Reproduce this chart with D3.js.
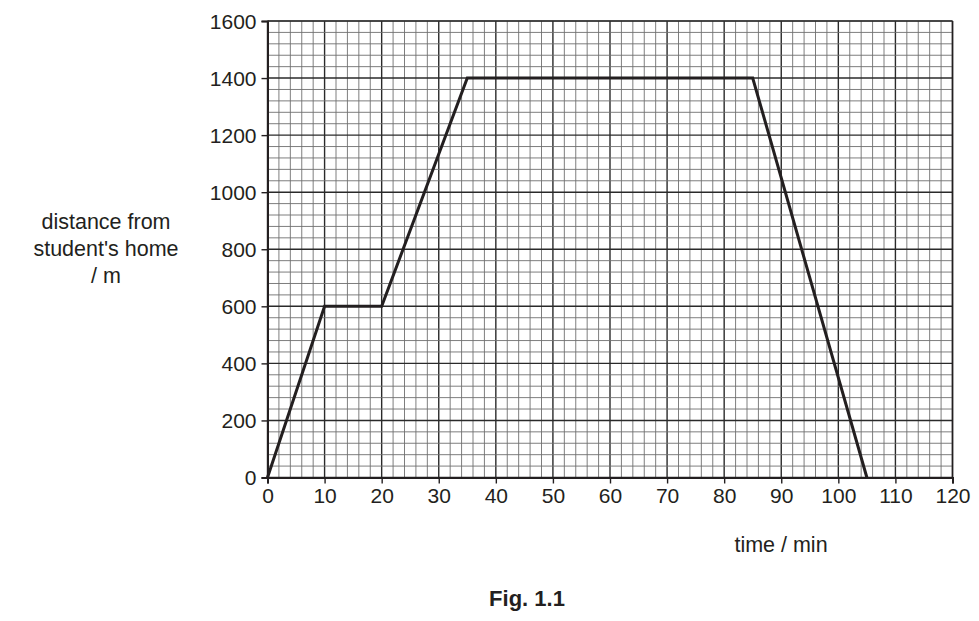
<!DOCTYPE html>
<meta charset="utf-8">
<style>
body { margin: 0; background: #fff; }
text { font-family: "Liberation Sans", Arial, sans-serif; fill: #231f20; }
</style>
<svg width="979" height="621"></svg>
<script src="https://cdn.jsdelivr.net/npm/d3@7"></script>
<script>

let times = [0, 10, 20, 35, 85, 105];
let distances = [0, 600, 600, 1400, 1400, 0];
let xTicks = [0, 10, 20, 30, 40, 50, 60, 70, 80, 90, 100, 110, 120];
let yTicks = [0, 200, 400, 600, 800, 1000, 1200, 1400, 1600];
let yLabel = ['distance from', "student's home", '/ m'];

let svg = d3.select('svg');
let x = d3.scaleLinear().domain([0, 120]).range([267.5, 952.5]);
let y = d3.scaleLinear().domain([0, 1600]).range([477.5, 21]);

let grid = svg.append('g');

// minor grid, 2 min and 40 m
grid.selectAll('.vx').data(d3.range(0, 121, 2)).enter().append('line')
    .attr('x1', d => x(d)).attr('x2', d => x(d))
    .attr('y1', y(0)).attr('y2', y(1600))
    .attr('stroke', d => d % 10 === 0 ? '#2a2a2a' : '#6f6f6f')
    .attr('stroke-width', d => d % 10 === 0 ? 1.4 : 0.9);

grid.selectAll('.hy').data(d3.range(0, 1601, 40)).enter().append('line')
    .attr('y1', d => y(d)).attr('y2', d => y(d))
    .attr('x1', x(0)).attr('x2', x(120))
    .attr('stroke', d => d % 200 === 0 ? '#2a2a2a' : '#6f6f6f')
    .attr('stroke-width', d => d % 200 === 0 ? 1.4 : 0.9);

// axes
let xAxis = svg.append('g')
    .attr('transform', 'translate(0,' + y(0) + ')')
    .call(d3.axisBottom(x).tickValues(xTicks).tickFormat(d3.format('d')).tickSize(6).tickPadding(3));
let yAxis = svg.append('g')
    .attr('transform', 'translate(' + x(0) + ',0)')
    .call(d3.axisLeft(y).tickValues(yTicks).tickFormat(d3.format('d')).tickSize(6).tickPadding(5));

[xAxis, yAxis].forEach(a => {
  a.select('.domain').attr('stroke', '#231f20').attr('stroke-width', 2);
  a.selectAll('.tick line').attr('stroke', '#231f20').attr('stroke-width', 1.4);
  a.selectAll('.tick text')
      .style('font-family', '"Liberation Sans", Arial, sans-serif')
      .style('font-size', '21px')
      .attr('fill', '#231f20');
});
xAxis.selectAll('.tick text').attr('dy', '0.8em');
yAxis.selectAll('.tick text').attr('dy', '0.35em');

// right and top border
svg.append('line')
    .attr('x1', x(120)).attr('x2', x(120))
    .attr('y1', y(0)).attr('y2', y(1600))
    .attr('stroke', '#231f20').attr('stroke-width', 1.5);
svg.append('line')
    .attr('x1', x(0)).attr('x2', x(120))
    .attr('y1', y(1600)).attr('y2', y(1600))
    .attr('stroke', '#333').attr('stroke-width', 1.2);

// journey line
let pts = times.map((t, i) => [t, distances[i]]);
svg.append('path')
    .datum(pts)
    .attr('fill', 'none')
    .attr('stroke', '#231f20')
    .attr('stroke-width', 3)
    .attr('stroke-linejoin', 'miter')
    .attr('d', d3.line().x(d => x(d[0])).y(d => y(d[1])));

// labels
svg.append('g').selectAll('text').data(yLabel).enter().append('text')
    .attr('x', 106)
    .attr('y', (d, i) => 229 + i * 27)
    .attr('text-anchor', 'middle')
    .style('font-size', '21.5px')
    .text(d => d);

svg.append('text')
    .attr('x', 781).attr('y', 552)
    .attr('text-anchor', 'middle')
    .style('font-size', '21.5px')
    .text('time / min');

svg.append('text')
    .attr('x', 527).attr('y', 606)
    .attr('text-anchor', 'middle')
    .style('font-size', '22px')
    .style('font-weight', 'bold')
    .text('Fig. 1.1');

</script>
